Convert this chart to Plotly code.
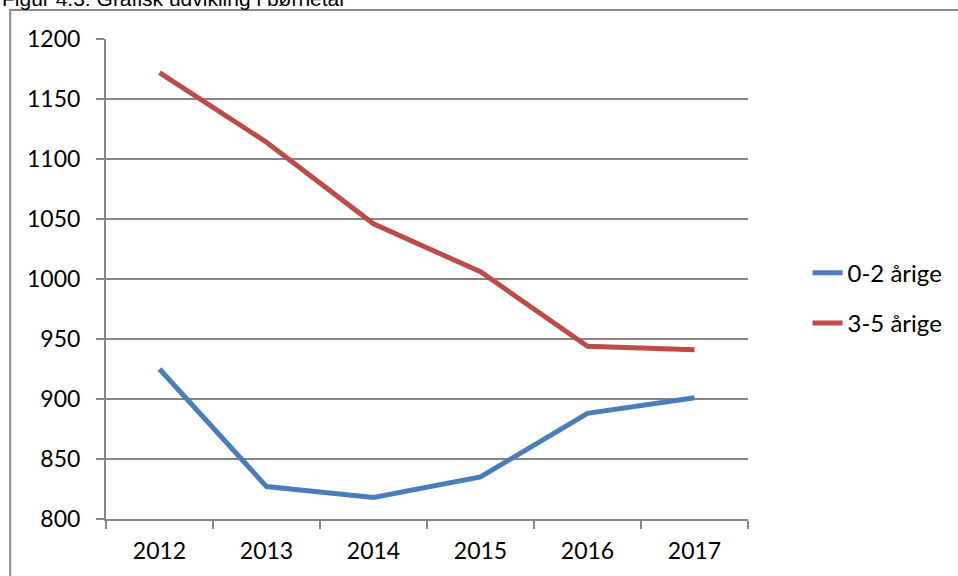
import plotly.graph_objects as go

years = ["2012", "2013", "2014", "2015", "2016", "2017"]
age_0_2 = [925, 827, 818, 835, 888, 901]
age_3_5 = [1172, 1114, 1046, 1006, 944, 941]
series_names = ["0-2 årige", "3-5 årige"]
y_ticks = [800, 850, 900, 950, 1000, 1050, 1100, 1150, 1200]
title_text = "Figur 4.3: Grafisk udvikling i børnetal"

fig = go.Figure()
fig.add_trace(go.Scatter(x=years, y=age_0_2, mode="lines", name=series_names[0],
                         legendgroup="a",
                         line=dict(color="#4A7EBB", width=5)))
fig.add_trace(go.Scatter(x=years, y=age_3_5, mode="lines", name=series_names[1],
                         legendgroup="b",
                         line=dict(color="#BE4B48", width=5)))

font_family = "Lato, Carlito, Calibri, sans-serif"

fig.update_layout(
    width=958, height=576,
    margin=dict(l=106, r=209, t=39, b=57),
    paper_bgcolor="white", plot_bgcolor="white",
    font=dict(family=font_family, size=22, color="black"),
    showlegend=True,
    legend=dict(x=1.091, y=0.46, xanchor="left", yanchor="middle",
                traceorder="grouped", tracegroupgap=16,
                font=dict(family=font_family, size=24, color="black"),
                bgcolor="rgba(0,0,0,0)"),
    xaxis=dict(type="category", range=[-0.5, 5.5], showgrid=False,
               showline=True, linecolor="#868686", linewidth=2,
               ticks="outside", tickson="boundaries", ticklen=8,
               tickcolor="#868686", tickwidth=2, ticklabelstandoff=10,
               tickfont=dict(family=font_family, size=23, color="black")),
    yaxis=dict(range=[800, 1200], tickvals=y_ticks, showgrid=True,
               gridcolor="#868686", gridwidth=2,
               showline=True, linecolor="#868686", linewidth=2,
               ticks="outside", ticklen=8, tickcolor="#868686", tickwidth=2,
               zeroline=False, ticklabelstandoff=11,
               tickfont=dict(family=font_family, size=23, color="black")),
    shapes=[dict(type="rect", xref="paper", yref="paper",
                 x0=-0.1493, x1=2.0, y0=-1.0, y1=1.0604,
                 line=dict(color="#8C8C8C", width=2),
                 fillcolor="rgba(0,0,0,0)", layer="below")],
    annotations=[dict(text=title_text, xref="paper", yref="paper",
                      x=-0.1649, y=1.057, xanchor="left", yanchor="bottom",
                      showarrow=False,
                      font=dict(family="Liberation Sans, Arial, sans-serif",
                                size=21, color="black"))],
)

fig.write_html("out.html",
               config={"displayModeBar": False},
               post_script="document.body.style.margin='0';document.body.style.overflow='hidden';")
